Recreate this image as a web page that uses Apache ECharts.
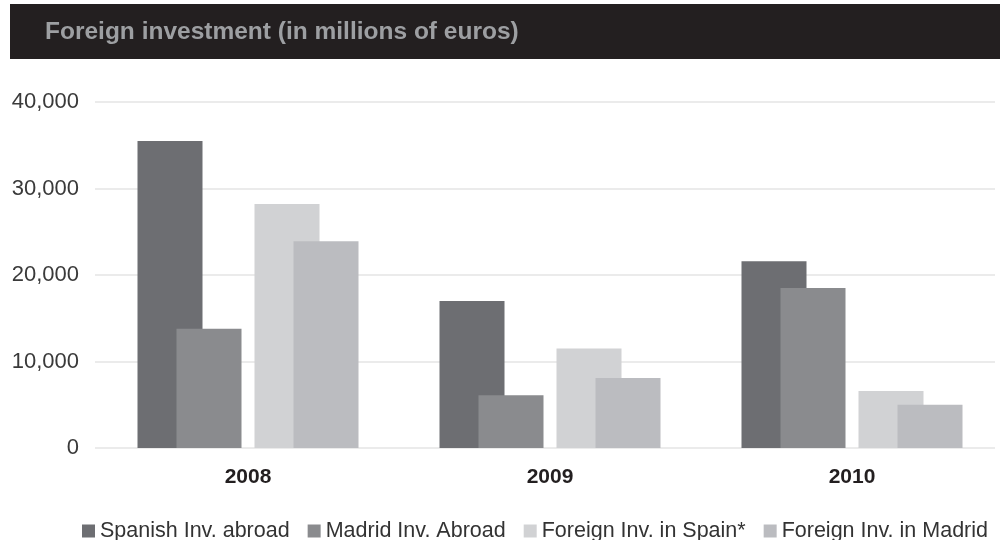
<!DOCTYPE html>
<html>
<head>
<meta charset="utf-8">
<script src="https://cdn.jsdelivr.net/npm/echarts@6/dist/echarts.min.js"></script>
<style>
  html, body { margin: 0; padding: 0; background: #ffffff; }
  #chart { width: 1003px; height: 540px; }
</style>
</head>
<body>
<div id="chart"></div>
<script>
// Foreign investment, millions of euros
const categories = ['2008', '2009', '2010'];
const spanishInvAbroad = [35500, 17000, 21600];
const madridInvAbroad = [13800, 6100, 18500];
const foreignInvInSpain = [28200, 11500, 6600];
const foreignInvInMadrid = [23900, 8100, 5000];
const seriesNames = ['Spanish Inv. abroad', 'Madrid Inv. Abroad', 'Foreign Inv. in Spain*', 'Foreign Inv. in Madrid'];
const yMin = 0, yMax = 40000, yStep = 10000;

const colors = ['#6d6e72', '#8a8b8e', '#d1d2d4', '#bbbcc0'];
const font = 'Liberation Sans, Arial, Helvetica, sans-serif';

const chart = echarts.init(document.getElementById('chart'), null, { renderer: 'canvas' });

function barSeries(name, data, color) {
  return {
    type: 'bar',
    name: name,
    data: data,
    xAxisIndex: 1,
    yAxisIndex: 1,
    barWidth: 65,
    barGap: '-40%',
    itemStyle: { color: color },
    emphasis: { disabled: true }
  };
}

chart.setOption({
  animation: false,
  color: colors,
  graphic: [{
    type: 'rect',
    left: 10,
    top: 4,
    shape: { width: 990, height: 55 },
    style: { fill: '#231f20' },
    z: 0
  }],
  title: {
    text: 'Foreign investment (in millions of euros)',
    left: 45,
    top: 20,
    padding: 0,
    textStyle: { color: '#9d9fa2', fontSize: 24.5, fontWeight: 'bold', fontFamily: font }
  },
  legend: {
    data: seriesNames,
    left: 77,
    top: 515,
    icon: 'rect',
    itemWidth: 13,
    itemHeight: 13,
    itemGap: 18,
    selectedMode: false,
    textStyle: { color: '#333333', fontSize: 21.5, fontFamily: font }
  },
  grid: [
    // gridlines and value labels
    { left: 95, right: 8, top: 102, bottom: 92 },
    // bars and year labels
    { left: 97, right: 0, top: 102, bottom: 92 }
  ],
  xAxis: [
    { type: 'category', gridIndex: 0, data: categories, show: false },
    {
      type: 'category',
      gridIndex: 1,
      data: categories,
      axisLine: { show: false },
      axisTick: { show: false },
      axisLabel: { color: '#231f20', fontSize: 21, fontWeight: 'bold', fontFamily: font, margin: 19 }
    }
  ],
  yAxis: [
    {
      type: 'value',
      gridIndex: 0,
      min: yMin,
      max: yMax,
      interval: yStep,
      axisLine: { show: false },
      axisTick: { show: false },
      axisLabel: { color: '#3a3a3a', fontSize: 22, fontFamily: font, margin: 16 },
      splitLine: { lineStyle: { color: '#e4e4e4', width: 1.5 } }
    },
    { type: 'value', gridIndex: 1, min: yMin, max: yMax, interval: yStep, show: false, splitLine: { show: false } }
  ],
  series: [
    barSeries(seriesNames[0], spanishInvAbroad, colors[0]),
    barSeries(seriesNames[1], madridInvAbroad, colors[1]),
    // empty slot separating the two pairs of bars
    barSeries('', categories.map(() => null), 'transparent'),
    barSeries(seriesNames[2], foreignInvInSpain, colors[2]),
    barSeries(seriesNames[3], foreignInvInMadrid, colors[3])
  ]
});
</script>
</body>
</html>
